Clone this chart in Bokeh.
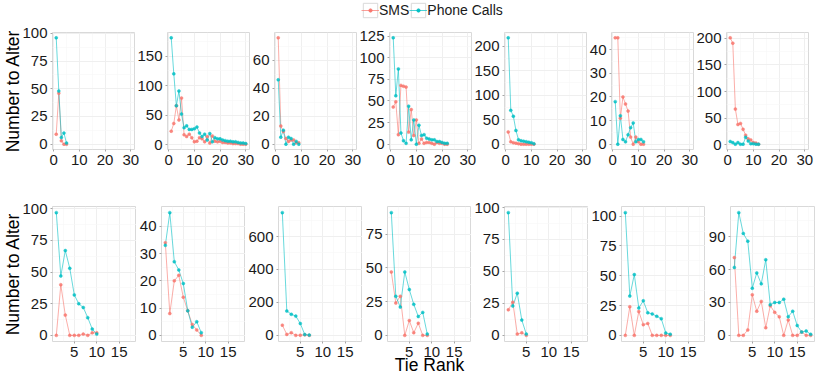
from bokeh.plotting import figure
from bokeh.layouts import column, row
from bokeh.models import FixedTicker, Range1d, Legend, LegendItem, ColumnDataSource
from bokeh.embed import file_html
from bokeh.resources import INLINE

# ---------------- data ----------------
series_names = ["SMS", "Phone Calls"]
top_xticks = [0, 10, 20, 30]
bottom_xticks = [5, 10, 15]

# top row panels
t1_sms = [9, 46, 3, 0, 0]
t1_calls = [96, 48, 6, 10, 1]
t2_sms = [23, 36, 66, 42, 79, 17, 14, 18, 12, 5, 6, 12, 10, 5, 14, 3, 15, 6, 5, 6, 4, 4, 3, 3, 2, 2, 2, 1, 1, 1]
t2_calls = [181, 120, 66, 91, 52, 29, 32, 26, 26, 27, 30, 20, 14, 18, 8, 19, 5, 12, 10, 10, 8, 7, 6, 6, 5, 5, 4, 3, 3, 2]
t3_sms = [76, 13, 9, 4, 2, 3, 3, 1, 1]
t3_calls = [46, 5, 10, 0, 5, 4, 0, 2, 0]
t4_sms = [43, 49, 11, 68, 67, 66, 14, 40, 10, 28, 1, 6, 1, 2, 2, 1, 0, 2, 1, 1, 0, 0]
t4_calls = [123, 56, 87, 13, 4, 1, 44, 5, 28, 0, 22, 10, 11, 7, 6, 5, 5, 3, 3, 2, 1, 1]
t5_sms = [25, 5, 3, 2, 1, 0, 0, 0, 0, 0, 0]
t5_calls = [217, 69, 57, 28, 9, 7, 6, 5, 4, 3, 1]
t6_sms = [45, 45, 11, 20, 17, 14, 3, 0, 3, 1, 0, 0]
t6_calls = [18, 0, 12, 2, 1, 4, 7, 9, 1, 2, 2, 1]
t7_sms = [201, 191, 67, 38, 40, 29, 18, 11, 9, 4, 3, 1]
t7_calls = [6, 4, 1, 4, 1, 1, 14, 7, 2, 2, 1, 1]

# bottom row panels
b1_sms = [0, 40, 16, 0, 0, 0, 1, 0, 2, 2]
b1_calls = [97, 47, 67, 53, 32, 25, 22, 14, 5, 1]
b2_sms = [34, 8, 20, 22, 14, 9, 4, 2, 0]
b2_calls = [33, 45, 27, 24, 19, 9, 3, 5, 1]
b3_sms = [62, 6, 16, 0, 1, 3, 0]
b3_calls = [745, 148, 128, 117, 72, 5, 2]
b4_sms = [47, 24, 29, 0, 11, 2, 9, 0, 0]
b4_calls = [91, 29, 21, 47, 34, 23, 14, 17, 1]
b5_sms = [20, 26, 1, 2, 0]
b5_calls = [96, 23, 33, 12, 1]
b6_sms = [0, 24, 0, 20, 9, 10, 0, 0, 0, 0, 0]
b6_calls = [103, 33, 51, 23, 29, 19, 18, 16, 14, 2, 1]
b7_sms = [71, 0, 0, 5, 37, 22, 31, 7, 27, 21, 17, 0, 14, 0, 0, 3, 0, 0]
b7_calls = [62, 112, 93, 86, 43, 57, 47, 69, 28, 30, 30, 33, 17, 22, 9, 3, 4, 1]

top_yticks = [[0, 25, 50, 75, 100], [0, 50, 100, 150], [0, 20, 40, 60],
              [0, 25, 50, 75, 100, 125], [0, 50, 100, 150, 200], [0, 10, 20, 30, 40],
              [0, 50, 100, 150, 200]]
bottom_yticks = [[0, 25, 50, 75, 100], [0, 10, 20, 30, 40], [0, 200, 400, 600],
                 [0, 25, 50, 75], [0, 25, 50, 75, 100], [0, 25, 50, 75, 100], [0, 30, 60, 90]]

top_sms = [t1_sms, t2_sms, t3_sms, t4_sms, t5_sms, t6_sms, t7_sms]
top_calls = [t1_calls, t2_calls, t3_calls, t4_calls, t5_calls, t6_calls, t7_calls]
bottom_sms = [b1_sms, b2_sms, b3_sms, b4_sms, b5_sms, b6_sms, b7_sms]
bottom_calls = [b1_calls, b2_calls, b3_calls, b4_calls, b5_calls, b6_calls, b7_calls]

# ---------------- styling ----------------
SMS_COLOR = "#F8766D"
CALL_COLOR = "#00BFC4"
FONT = "Liberation Sans"
TICK_FONT_SIZE = "15px"
TITLE_FONT_SIZE = "17.5px"


def expand(lo, hi, f=0.05):
    pad = (hi - lo) * f
    return lo - pad, hi + pad


def minors(ticks, lo, hi):
    step = ticks[1] - ticks[0]
    cands = [ticks[0] - step / 2] + [t + step / 2 for t in ticks]
    return [c for c in cands if lo <= c <= hi]


def make_panel(sms, calls, xlim, xticks, yticks, fw, fh, bl, br, bt, bb, ml):
    ylim = expand(min(sms + calls), max(sms + calls))
    p = figure(frame_width=fw, frame_height=fh,
               x_range=Range1d(*xlim), y_range=Range1d(*ylim),
               min_border_left=bl, min_border_right=br,
               min_border_top=bt, min_border_bottom=bb,
               toolbar_location=None, tools="", output_backend="svg",
               background_fill_color="white", border_fill_color=None,
               outline_line_color="#D9D9D9", outline_line_width=1,
               margin=(0, 0, 0, ml))
    p.xaxis.ticker = FixedTicker(ticks=xticks, minor_ticks=minors(xticks, *xlim))
    p.yaxis.ticker = FixedTicker(ticks=yticks, minor_ticks=minors(yticks, *ylim))
    for ax in p.axis:
        ax.axis_line_color = None
        ax.major_tick_line_color = "#A6A6A6"
        ax.major_tick_out = 2
        ax.major_tick_in = 0
        ax.minor_tick_line_color = None
        ax.major_label_text_font = FONT
        ax.major_label_text_font_size = TICK_FONT_SIZE
        ax.major_label_text_color = "#1A1A1A"
        ax.major_label_standoff = 1
        ax.axis_label_text_font = FONT
        ax.axis_label_text_font_size = TITLE_FONT_SIZE
        ax.axis_label_text_font_style = "normal"
        ax.axis_label_text_color = "#000000"
    p.grid.grid_line_color = "#EFEFEF"
    p.grid.grid_line_width = 1
    p.grid.minor_grid_line_color = "#F7F7F7"
    p.grid.minor_grid_line_width = 0.6

    xs_s = list(range(1, len(sms) + 1))
    xs_c = list(range(1, len(calls) + 1))
    p.line(xs_s, sms, line_color=SMS_COLOR, line_width=0.7, line_alpha=0.85)
    p.line(xs_c, calls, line_color=CALL_COLOR, line_width=0.7, line_alpha=0.85)
    p.scatter(xs_s, sms, size=3, fill_color=SMS_COLOR, line_color=SMS_COLOR,
              line_width=0.5, alpha=0.85)
    p.scatter(xs_c, calls, size=3, fill_color=CALL_COLOR, line_color=CALL_COLOR,
              line_width=0.5, alpha=0.85)
    return p


# ---------------- layout (pixel positions of the panels) ----------------
TOP_W, TOP_H = 82, 117
TOP_LEFT = [51, 32, 22, 30, 33, 24, 31]
TOP_OV = 6
BOT_W, BOT_H = 84, 135
BOT_LEFT = [52, 22, 33, 23, 31, 31, 24]

top_figs = []
for i in range(7):
    last = i == 6
    br = 9 if last else TOP_OV
    ml = 0 if i == 0 else -TOP_OV
    p = make_panel(top_sms[i], top_calls[i], (-0.45, 31.45), top_xticks, top_yticks[i],
                   TOP_W, TOP_H, TOP_LEFT[i], br, 12, 28, ml)
    top_figs.append(p)
top_figs[0].yaxis.axis_label = "Number to Alter"
top_figs[0].yaxis.axis_label_standoff = -4

bot_figs = []
for i in range(7):
    last = i == 6
    br = 4 if last else 0
    p = make_panel(bottom_sms[i], bottom_calls[i], (0.15, 18.85), bottom_xticks, bottom_yticks[i],
                   BOT_W, BOT_H, BOT_LEFT[i], br, 29, 35, 0)
    bot_figs.append(p)
bot_figs[0].yaxis.axis_label = "Number to Alter"
bot_figs[0].yaxis.axis_label_standoff = -4
bot_figs[3].xaxis.axis_label = "Tie Rank"
bot_figs[3].xaxis.axis_label_standoff = -5

# legend strip
leg = figure(width=816, height=20, x_range=Range1d(0, 1), y_range=Range1d(0, 1),
             toolbar_location=None, tools="", output_backend="svg",
             x_axis_location=None, y_axis_location=None, min_border=0,
             outline_line_color=None, border_fill_color=None, background_fill_color=None)
leg.grid.visible = False
offscreen = ColumnDataSource(dict(x=[-10], y=[-10]))
key_items = []
dot_renderers = []
for name, col in zip(series_names, [SMS_COLOR, CALL_COLOR]):
    box = leg.rect(x="x", y="y", width=1, height=1, source=offscreen,
                   fill_color="white", line_color="#D9D9D9", line_width=1)
    ln = leg.line(x="x", y="y", source=offscreen, line_color=col, line_width=0.7)
    key_items.append(LegendItem(label=name, renderers=[box, ln]))
    dot_renderers.append(leg.scatter(x="x", y="y", source=offscreen, size=3,
                                     fill_color=col, line_color=col))

common = dict(orientation="horizontal", padding=0, margin=0, border_line_color=None,
              background_fill_alpha=0, label_text_font=FONT, label_text_color="#1A1A1A")
legend = Legend(items=key_items, location=(361, 1), glyph_width=18, glyph_height=18,
                label_standoff=0, spacing=0, label_text_font_size="14px", label_height=18,
                **common)
leg.add_layout(legend)
# small point markers drawn in the centre of each key
for rend, x0 in zip(dot_renderers, [366, 414]):
    leg.add_layout(Legend(items=[LegendItem(label=" ", renderers=[rend])], location=(x0, 6),
                          glyph_width=8, glyph_height=8, label_standoff=0, spacing=0,
                          label_width=0, label_height=8, label_text_font_size="1px",
                          **common))

layout = column(leg, row(*top_figs), row(*bot_figs))
open("out.html", "w").write(file_html(layout, INLINE))
